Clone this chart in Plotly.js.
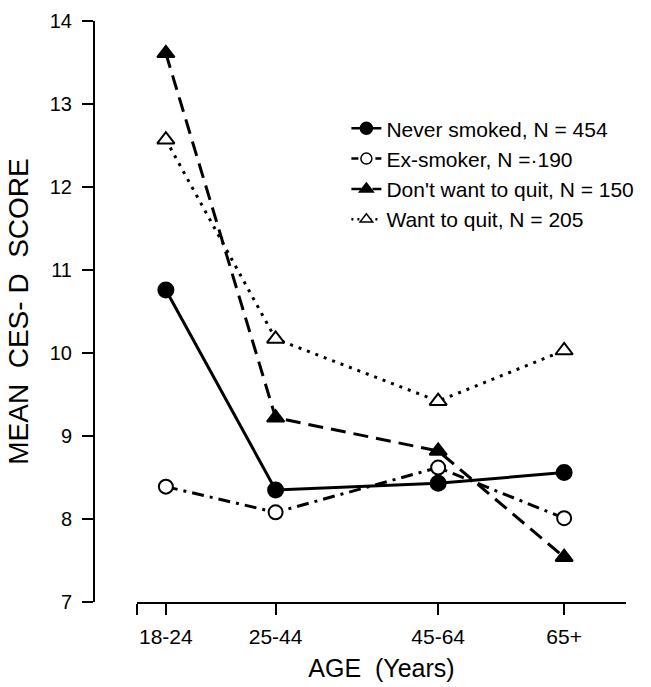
<!DOCTYPE html>
<html>
<head>
<meta charset="utf-8">
<script src="https://cdn.plot.ly/plotly-3.0.1.min.js"></script>
<style>html,body{margin:0;padding:0;background:#fff;}#chart{width:651px;height:687px;}</style>
</head>
<body>
<div id="chart"></div>
<script>
// Age groups (plotted at group mid-ages) and tick labels
const ageGroups = ["18-24", "25-44", "45-64", "65+"];
const agePos = [21, 34.5, 54.5, 70];

// Mean CES-D score by group
const neverSmoked = [10.76, 8.35, 8.43, 8.56];
const exSmoker = [8.39, 8.08, 8.62, 8.01];
const dontWantToQuit = [13.61, 9.22, 8.82, 7.54];
const wantToQuit = [12.57, 10.17, 9.42, 10.03];

const seriesNames = [
  "Never smoked, N = 454",
  "Ex-smoker, N =\u00B7190",
  "Don't want to quit, N = 150",
  "Want to quit, N = 205"
];

const black = "#000";
const white = "#fff";
const lw = 3;
const fam = "Liberation Sans, Arial, sans-serif";

function plotTrace(y, dash, symbol, fill, size) {
  return {
    x: agePos, y: y, type: "scatter", mode: "lines+markers",
    showlegend: false, cliponaxis: false,
    line: {color: black, width: lw, dash: dash},
    marker: {color: fill, symbol: symbol, size: size, line: {color: black, width: 2}}
  };
}
function legendTrace(name, dash, symbol, fill, size) {
  return {
    x: [null], y: [null], type: "scatter", mode: "lines+markers",
    name: name, showlegend: true,
    line: {color: black, width: 2.5, dash: dash},
    marker: {color: fill, symbol: symbol, size: size, line: {color: black, width: 1.5}}
  };
}

const data = [
  plotTrace(neverSmoked, "solid", "circle", black, 15),
  plotTrace(exSmoker, "12px,6px,3px,6px", "circle", white, 14),
  plotTrace(dontWantToQuit, "15px,8px", "triangle-up", black, 15),
  plotTrace(wantToQuit, "3px,6px", "triangle-up", white, 15),
  legendTrace(seriesNames[0], "solid", "circle", black, 12),
  legendTrace(seriesNames[1], "7px,5px", "circle", white, 11),
  legendTrace(seriesNames[2], "10px,4px,3px,4px", "triangle-up", black, 12),
  legendTrace(seriesNames[3], "2px,4px", "triangle-up", white, 11)
];

const layout = {
  width: 651, height: 687,
  margin: {l: 94, r: 24, t: 21, b: 85},
  paper_bgcolor: "#fff", plot_bgcolor: "#fff",
  font: {family: fam, color: black},
  xaxis: {
    domain: [0.0807, 1],
    range: [17.44, 77.61],
    tickvals: [17.46].concat(agePos),
    ticktext: [""].concat(ageGroups),
    ticks: "outside", ticklen: 11, tickwidth: 2, tickcolor: black,
    showline: true, linewidth: 2, linecolor: black,
    showgrid: false, zeroline: false,
    tickfont: {family: fam, size: 21, color: black},
    ticklabelstandoff: 4,
    automargin: false,
    title: {text: "AGE  (Years)", font: {family: fam, size: 25, color: black}, standoff: 12}
  },
  yaxis: {
    anchor: "free", position: 0,
    range: [7, 14], dtick: 1, tick0: 7,
    ticks: "outside", ticklen: 11, tickwidth: 2, tickcolor: black,
    showline: true, linewidth: 2, linecolor: black,
    showgrid: false, zeroline: false,
    tickfont: {family: fam, size: 20, color: black},
    ticklabelstandoff: 6,
    automargin: false,
    title: {text: "MEAN\u00A0 CES-\u00A0D\u00A0 SCORE", font: {family: fam, size: 28, color: black}, standoff: 12}
  },
  legend: {
    x: 0.4735, y: 0.85, xanchor: "left", yanchor: "top",
    bgcolor: "rgba(0,0,0,0)", borderwidth: 0,
    font: {family: fam, size: 21, color: black},
    tracegroupgap: 0
  }
};

Plotly.newPlot("chart", data, layout, {staticPlot: true, displayModeBar: false});
</script>
</body>
</html>
